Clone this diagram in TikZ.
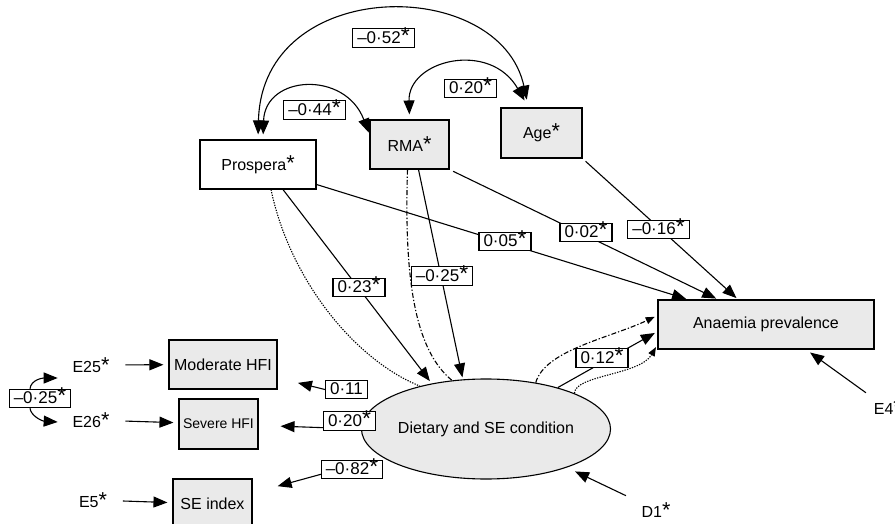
\documentclass[tikz,border=0pt]{standalone}
\usepackage{fontspec}
\usepackage{graphicx}
\setmainfont{Liberation Sans}
\usetikzlibrary{arrows.meta,shapes.geometric}
\definecolor{boxgray}{HTML}{EAEAEA}
\newcommand{\sig}{\scalebox{1.35}{*}}
\begin{document}
\begin{tikzpicture}[x=1pt, y=-1pt, >={Triangle[length=14pt,width=11pt]}, line width=1.1pt,
    font=\fontsize{16}{19}\selectfont,
    box/.style={draw, fill=boxgray, inner sep=0pt, minimum width=#1, minimum height=49pt},
    lbl/.style={draw, fill=white, inner xsep=4.5pt, inner ysep=2.5pt, text height=12pt, text depth=1.5pt, font=\fontsize{17}{20}\selectfont},
    small/.style={-{Triangle[length=9pt,width=7pt]}},
    dots/.style={dash pattern=on 1.3pt off 1.3pt},
    dashdot/.style={dash pattern=on 5pt off 2pt on 1.3pt off 2pt}]
\useasboundingbox (0,0) rectangle (895,524);
\node[box=116, fill=white] (prosp) at (258,164.5) {Prospera\sig};
\node[box=79] (rma) at (409.5,144.5) {RMA\sig};
\node[box=81, minimum height=50pt] (age) at (541.5,133) {Age\sig};
\node[box=216] (anem) at (766,324.5) {Anaemia prevalence};
\node[box=108] (mod) at (223,364.5) {Moderate HFI};
\node[box=79, minimum height=50pt, font=\fontsize{14}{17}\selectfont] (sev) at (218.5,424) {Severe HFI};
\node[box=79, minimum height=50pt] (sei) at (212.5,504) {SE index};
\node[draw, ellipse, fill=boxgray, inner sep=0pt, minimum width=202pt, minimum height=100pt] (diet) at (486,429) {Dietary and SE condition};
\node (e25) at (91,365) {E25\sig};
\node (e26) at (91,420) {E26\sig};
\node (e5) at (93,500) {E5\sig};
\node (d1) at (656,510) {D1\sig};
\node[anchor=west] (e4) at (870,407) {E4\sig};
\node[lbl] (c25) at (40,398.5) {–0·25\sig};

\draw[<->, shorten <=5pt, shorten >=8pt] (prosp.north) .. controls (262,-25) and (500,-25) .. ([xshift=-13pt]age.north);
\draw[<->, shorten <=5pt, shorten >=2pt] ([xshift=5pt]prosp.north) .. controls (265,75) and (345,70) .. ([yshift=-15pt]rma.north west);
\draw[<->, shorten <=5pt, shorten >=8pt] (rma.north) .. controls (408,60) and (490,40) .. ([xshift=-13pt]age.north);

\draw[->, shorten >=2pt] ([yshift=-20pt]prosp.east) -- ([xshift=-78pt]anem.north);
\draw[->, shorten <=4pt, shorten >=2pt] (rma.south east) -- ([xshift=-48pt]anem.north);
\draw[->, shorten <=4pt, shorten >=2pt] (age.south east) -- ([xshift=-28pt]anem.north);

\draw[->, shorten >=3pt] ([xshift=25pt]prosp.south) -- (diet.140);
\draw[dots] ([xshift=13pt]prosp.south) .. controls (290,280) and (355,360) .. (diet.147);
\draw[dashdot] ([xshift=-2pt]rma.south) .. controls (404,280) and (415,350) .. (diet.125);
\draw[->, shorten >=2pt] ([xshift=9pt]rma.south) -- (diet.115);

\draw[->, shorten >=3pt] (diet.30) -- ([yshift=-7pt]anem.west);
\draw[small, dashdot, shorten >=3pt] (diet.43) .. controls (545,350) and (610,338) .. ([yshift=9pt]anem.west);
\draw[small, dots, shorten >=3pt] (diet.22) .. controls (575,375) and (640,375) .. ([yshift=-20pt]anem.west);

\draw[->, shorten <=28pt, shorten >=21pt] (diet) -- (mod);
\draw[->, shorten <=10pt, shorten >=22pt] (diet.west) -- (sev);
\draw[->, shorten <=17pt, shorten >=26pt] (diet) -- (sei);
\draw[->, shorten <=13pt, shorten >=9pt] (d1) -- (diet);
\draw[->, shorten <=5pt, shorten >=5pt] (e4.north west) -- ([xshift=40pt]anem.south);

\draw[->, shorten <=12pt, shorten >=5pt] (e25) -- (mod);
\draw[->, shorten <=12pt, shorten >=5pt] (e26) -- (sev);
\draw[->, shorten <=12pt, shorten >=5pt] (e5) -- (sei);
\draw[->] ([xshift=-10pt]c25.north) .. controls (31,380) and (42,378) .. ([xshift=-11pt,yshift=-13pt]e25.west);
\draw[->] ([xshift=-10pt]c25.south) .. controls (31,416) and (42,421) .. ([xshift=-11pt,yshift=-2pt]e26.west);

\node[lbl] (l052) at (383.5,38) {–0·52\sig};
\node[lbl] (l044) at (314.5,110) {–0·44\sig};
\node[lbl] (l020a) at (470.5,88.5) {0·20\sig};
\node[lbl] (l023) at (359,287.5) {0·23\sig};
\node[lbl] (l025) at (442,276) {–0·25\sig};
\node[lbl] (l005) at (505,241.5) {0·05\sig};
\node[lbl] (l002) at (586,232.5) {0·02\sig};
\node[lbl] (l016) at (658.5,229.5) {–0·16\sig};
\node[lbl] (l012) at (602,358) {0·12\sig};
\node[lbl] (l011) at (346.5,389.5) {0·11};
\node[lbl] (l020b) at (349.5,421) {0·20\sig};
\node[lbl] (l082) at (352,469.5) {–0·82\sig};
\end{tikzpicture}
\end{document}
